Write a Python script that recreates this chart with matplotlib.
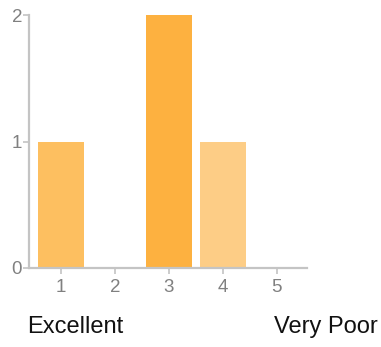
import matplotlib
matplotlib.use("Agg")
import matplotlib.pyplot as plt

# rating counts, 1 = Excellent ... 5 = Very Poor
ratings = [1, 2, 3, 4, 5]
counts = [1, 0, 2, 1, 0]
bar_colors = ["#fdbf60", "#fdbf60", "#fdb140", "#fdcd86", "#fdcd86"]
y_ticks = [0, 1, 2]
end_labels = ["Excellent", "Very Poor"]

plt.rcParams["font.family"] = ["Liberation Sans", "DejaVu Sans"]

W, H = 381, 347
fig = plt.figure(figsize=(W / 100, H / 100), dpi=100)
ax = fig.add_axes([29 / W, (H - 268) / H, (307 - 29) / W, (268 - 15) / H])

ax.bar(ratings, counts, width=0.85, color=bar_colors, zorder=1)

ax.set_xlim(0.41, 5.56)
ax.set_ylim(0, 2)
ax.set_xticks(ratings)
ax.set_yticks(y_ticks)

for side in ("top", "right"):
    ax.spines[side].set_visible(False)
for side in ("left", "bottom"):
    ax.spines[side].set_color("#c4c4c4")
    ax.spines[side].set_linewidth(1.6)
    ax.spines[side].set_zorder(3)

ax.tick_params(axis="both", colors="#c4c4c4", labelcolor="#808080",
               labelsize=13.5, length=4, width=1.2)
ax.tick_params(axis="x", pad=4)
ax.tick_params(axis="y", pad=1)

fig.text(27 / W, 1 - 327 / H, end_labels[0], ha="left", va="center",
         fontsize=17, color="#111111")
fig.text(378 / W, 1 - 327 / H, end_labels[1], ha="right", va="center",
         fontsize=17, color="#111111")

fig.savefig("out.png", dpi=100)
